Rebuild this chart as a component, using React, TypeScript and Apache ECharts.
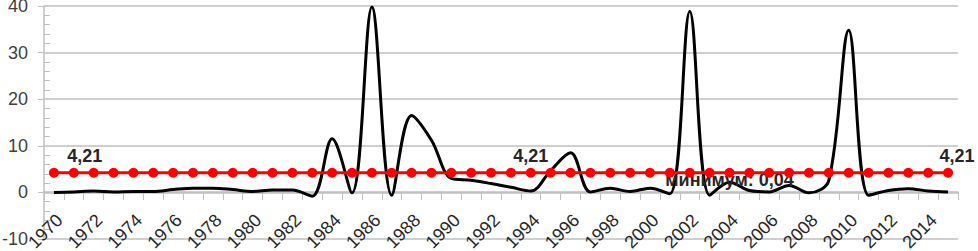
import React, { useEffect, useRef } from "react";
import * as echarts from "echarts";

const years: string[] = [
  "1970","1971","1972","1973","1974","1975","1976","1977","1978","1979",
  "1980","1981","1982","1983","1984","1985","1986","1987","1988","1989",
  "1990","1991","1992","1993","1994","1995","1996","1997","1998","1999",
  "2000","2001","2002","2003","2004","2005","2006","2007","2008","2009",
  "2010","2011","2012","2013","2014","2015",
];

const values: number[] = [
  0, 0.1, 0.3, 0.1, 0.2, 0.2, 0.6, 0.9, 0.9, 0.6,
  0.2, 0.5, 0.5, -0.8, 11.5, -0.1, 39.8, -0.6, 16.5, 11.2,
  3.0, 2.6, 1.9, 1.1, 0.3, 4.7, 8.5, 0.1, 0.9, 0.2,
  0.9, -0.3, 38.8, -0.6, 2.2, 0.4, 0.1, 1.5, -0.1, 2.6,
  34.8, -0.6, 0.4, 0.8, 0.3, 0.1,
];

const meanValue = 4.21;
const meanLabelText = "4,21";
const meanLabelYears: string[] = ["1971", "1994", "2015"];
const minLabelYear = "2004";
const minLabelText = "минимум: 0,04";

const FONT = "'Liberation Sans', Arial, sans-serif";
const Y_MIN = -10;
const Y_MAX = 40;
const GRID_TOP = 6;
const GRID_BOTTOM = 12;
const CHART_H = 251;

export default function App() {
  const ref = useRef<HTMLDivElement>(null);
  useEffect(() => {
    if (!ref.current) return;
    const chart = echarts.init(ref.current, null, { renderer: "svg" });

    const plotH = CHART_H - GRID_TOP - GRID_BOTTOM;
    const zeroShift = -Math.round((plotH * (0 - Y_MIN)) / (Y_MAX - Y_MIN));

    const blackData = values.map((v, i) =>
      years[i] === minLabelYear
        ? {
            value: v,
            label: {
              show: true,
              position: "inside",
              offset: [0, -2],
              formatter: minLabelText,
              fontSize: 18,
              fontWeight: "bold",
              fontFamily: FONT,
              color: "#262626",
            },
          }
        : v
    );

    const redData = years.map((y) => {
      const idx = meanLabelYears.indexOf(y);
      if (idx < 0) return meanValue;
      const offsets = [[11, 2], [0, 2], [9, 2]];
      return {
        value: meanValue,
        label: {
          show: true,
          position: "top",
          offset: offsets[idx],
          formatter: meanLabelText,
          fontSize: 18,
          fontWeight: "bold",
          fontFamily: FONT,
          color: "#262626",
        },
      };
    });

    chart.setOption({
      animation: false,
      grid: { left: 44, right: 20, top: GRID_TOP, bottom: GRID_BOTTOM, containLabel: false, outerBoundsMode: "none" },
      xAxis: {
        type: "category",
        data: years,
        boundaryGap: true,
        offset: zeroShift,
        axisLine: { show: true, onZero: false, lineStyle: { color: "#bfbfbf", width: 1.5 } },
        axisTick: { show: true, interval: 0, length: 8, lineStyle: { color: "#bfbfbf", width: 1 } },
        axisLabel: {
          interval: 1,
          rotate: 45,
          margin: 18,
          verticalAlign: "top",
          align: "right",
          padding: [0, 1, 0, 0],
          hideOverlap: false,
          fontSize: 18,
          fontFamily: FONT,
          color: "#262626",
        },
        splitLine: { show: false },
      },
      yAxis: [
        {
          type: "value",
          min: Y_MIN,
          max: Y_MAX,
          interval: 10,
          axisLine: { show: true, lineStyle: { color: "#bfbfbf", width: 1.5 } },
          axisTick: { show: false, inside: true },
          minorTick: { show: true, splitNumber: 5, length: 6, lineStyle: { color: "#bfbfbf" } },
          axisLabel: { margin: 16, fontSize: 18, fontFamily: FONT, color: "#404040" },
          splitLine: { show: true, lineStyle: { color: "#bfbfbf", width: 1.5 } },
        },
        {
          type: "value",
          position: "left",
          min: Y_MIN,
          max: Y_MAX,
          interval: 10,
          axisLine: { show: false },
          axisTick: { show: true, inside: false, length: 6, lineStyle: { color: "#bfbfbf" } },
          minorTick: { show: false },
          axisLabel: { show: false },
          splitLine: { show: false },
        },
      ],
      series: [
        {
          type: "line",
          data: blackData,
          smooth: 0.35,
          z: 2,
          symbol: "circle",
          symbolSize: 0,
          showSymbol: true,
          lineStyle: { color: "#000000", width: 3 },
          itemStyle: { color: "#000000" },
        },
        {
          type: "line",
          data: redData,
          z: 3,
          symbol: "circle",
          symbolSize: 10,
          lineStyle: { color: "#ff0000", width: 3 },
          itemStyle: { color: "#ff0000" },
        },
      ],
    });
    return () => chart.dispose();
  }, []);
  return <div ref={ref} style={{ width: 978, height: 251, position: "absolute", left: 0, top: 0 }} />;
}
